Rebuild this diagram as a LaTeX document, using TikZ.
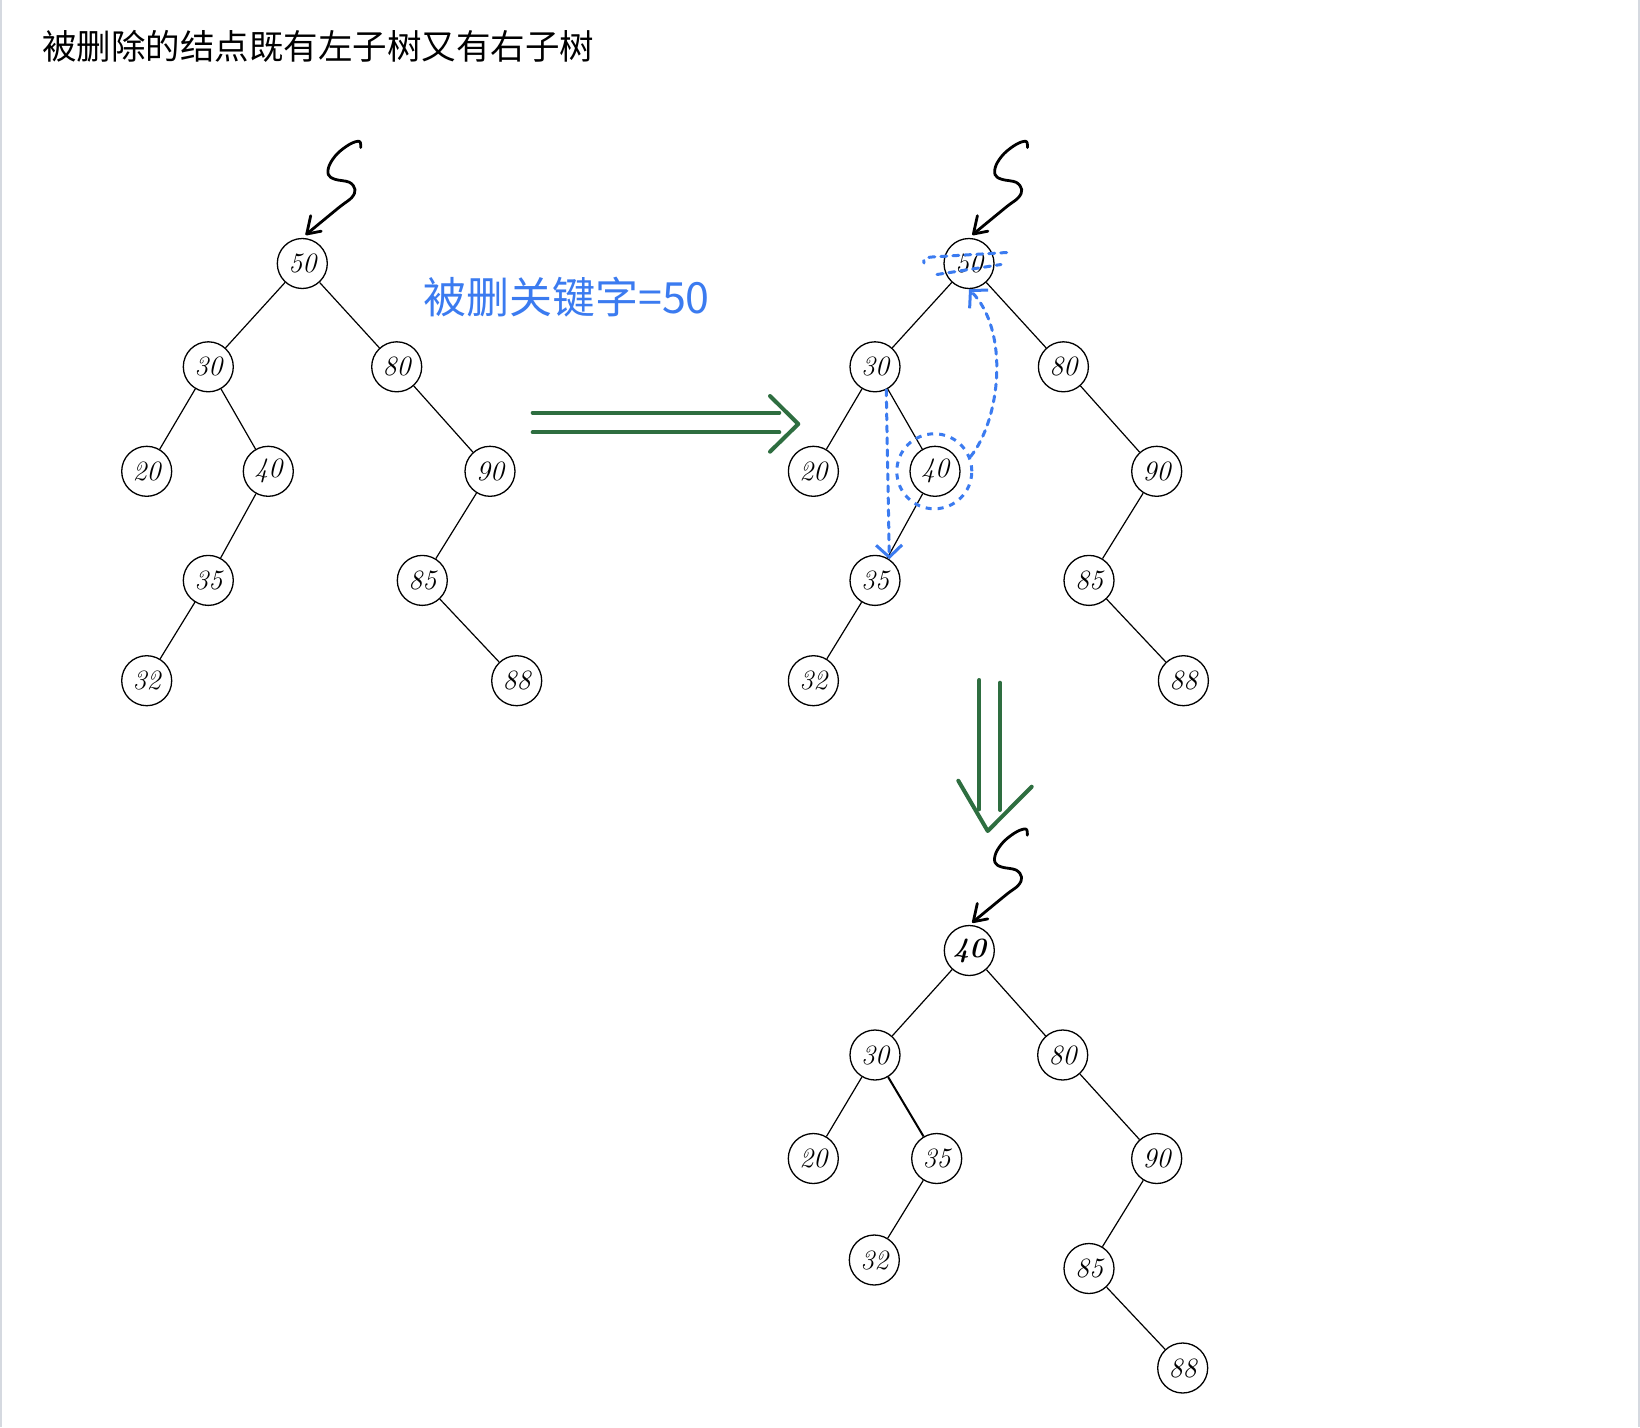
\documentclass[tikz,border=0pt]{standalone}
\usepackage{fontspec}
\newfontfamily\cjk{Noto Sans CJK SC}
\usetikzlibrary{arrows.meta}
\definecolor{hgreen}{HTML}{2E6E40}
\definecolor{hblue}{HTML}{3B7BF0}
\definecolor{bordergray}{HTML}{D5D9E0}
\tikzset{
  bst/.style={circle, draw=black, line width=1.3pt, minimum size=50pt, inner sep=0pt,
    font=\itshape\fontsize{28}{28}\selectfont},
  bstbold/.style={bst, font=\itshape\bfseries\fontsize{28}{28}\selectfont},
  edgeline/.style={black, line width=1.2pt},
  squigline/.style={black, line width=2.8pt, line cap=round, line join=round},
  garrow/.style={hgreen, line width=4pt, line cap=round, line join=round},
  bluedash/.style={hblue, line width=3pt, dash pattern=on 6pt off 6pt, line cap=round},
  bluetip/.style={-{Straight Barb[length=12pt, width=26pt]}},
  squig/.pic={
    \draw[squigline] plot[smooth, tension=0.6] coordinates {
      (54,-86.5) (52.7,-92.6) (43.3,-89.9) (30.7,-80.4) (22.7,-68.9) (21.7,-59.3)
      (28.3,-54.7) (42.7,-51.7) (48.3,-44.4) (45,-36.4) (34,-27.9) (17,-14) (0,0)};
    \draw[squigline] (4,-18.3) -- (0,0) -- (14.5,-2.8);
  }
}
\begin{document}
\begin{tikzpicture}[x=1pt, y=-1pt]
\fill[white] (0,0) rectangle (1640,1427);
\useasboundingbox (0,0) rectangle (1640,1427);
\draw[bordergray, line width=1.6pt] (0.8,0) -- (0.8,1427);
\draw[bordergray, line width=1.6pt] (1639.2,0) -- (1639.2,1427);

% title
\node[anchor=west, inner sep=0pt, font=\cjk\fontsize{34.5}{34.5}\selectfont] (title) at (42,46)
  {被删除的结点既有左子树又有右子树};

% left tree
\foreach \n/\x/\y/\t in {L50/302.3/263.5/50, L30/208.3/366.8/30, L80/396.7/366.8/80,
  L20/146.7/471.3/20, L40/268.3/471.3/40, L90/490/471.3/90, L35/208.3/580.4/35,
  L85/422.3/580.4/85, L32/146.7/680.7/32, L88/516.7/680.7/88}
  \node[bst] (\n) at (\x,\y) {\t};
\foreach \a/\b in {L50/L30, L50/L80, L30/L20, L30/L40, L40/L35, L35/L32, L80/L90, L90/L85, L85/L88}
  \draw[edgeline] (\a) -- (\b);

% middle tree
\foreach \n/\x/\y/\t in {M50/969/263.5/50, M30/875/366.8/30, M80/1063.4/366.8/80,
  M20/813.4/471.3/20, M40/935/471.3/40, M90/1156.7/471.3/90, M35/875/580.4/35,
  M85/1089/580.4/85, M32/813.4/680.7/32, M88/1183.4/680.7/88}
  \node[bst] (\n) at (\x,\y) {\t};
\foreach \a/\b in {M50/M30, M50/M80, M30/M20, M30/M40, M40/M35, M35/M32, M80/M90, M90/M85, M85/M88}
  \draw[edgeline] (\a) -- (\b);

% bottom tree
\foreach \n/\x/\y/\t in {B30/875/1055/30, B80/1062.7/1055/80,
  B20/813.3/1158.5/20, B35/936.7/1158.5/35, B90/1156.7/1158.5/90,
  B32/874.3/1260/32, B85/1089/1268.5/85, B88/1182.7/1368/88}
  \node[bst] (\n) at (\x,\y) {\t};
\node[bstbold] (B40) at (969.3,950.5) {40};
\foreach \a/\b in {B40/B30, B40/B80, B30/B20, B35/B32, B80/B90, B90/B85, B85/B88}
  \draw[edgeline] (\a) -- (\b);
\draw[edgeline, line width=2pt] (B30) -- (B35);

% pointer squiggles
\pic at (306.7,234) {squig};
\pic at (973.4,234) {squig};
\pic at (973.3,921.7) {squig};

% blue annotation
\node[anchor=west, inner sep=0pt, text=hblue, font=\cjk\fontsize{43}{43}\selectfont] (note) at (423,297)
  {被删关键字=50};
\draw[bluedash] (1006.7,252.5) -- (932,257) .. controls (925,257.5) and (923,260) .. (924,263);
\draw[bluedash] (937,274.5) -- (1001,264.5);
\node[circle, draw=hblue, line width=3pt, dash pattern=on 6pt off 6pt, minimum size=75pt, inner sep=0pt]
  (ring) at (934.3,471.3) {};
\draw[bluedash, bluetip] (ring.22) .. controls +(30,-37) and +(41,41.5) .. (M50.south);
\draw[bluedash, bluetip] (M30.-64) -- (M35.56);

% green arrows
\coordinate (h1s) at (532.7,412.7); \coordinate (h1e) at (779.3,412.7);
\coordinate (h2s) at (532.7,432.3); \coordinate (h2e) at (779.3,432.3);
\coordinate (hha) at (770,396); \coordinate (hhb) at (798.3,424); \coordinate (hhc) at (770,451.7);
\draw[garrow] (h1s) -- (h1e);
\draw[garrow] (h2s) -- (h2e);
\draw[garrow] (hha) -- (hhb) -- (hhc);

\coordinate (v1s) at (979.3,680); \coordinate (v1e) at (979.3,809.3);
\coordinate (v2s) at (1000,682.7); \coordinate (v2e) at (1000,810);
\coordinate (vha) at (958.3,780.7); \coordinate (vhb) at (987.7,831); \coordinate (vhc) at (1031.7,786.7);
\draw[garrow] (v1s) -- (v1e);
\draw[garrow] (v2s) -- (v2e);
\draw[garrow] (vha) -- (vhb) -- (vhc);
\end{tikzpicture}
\end{document}
